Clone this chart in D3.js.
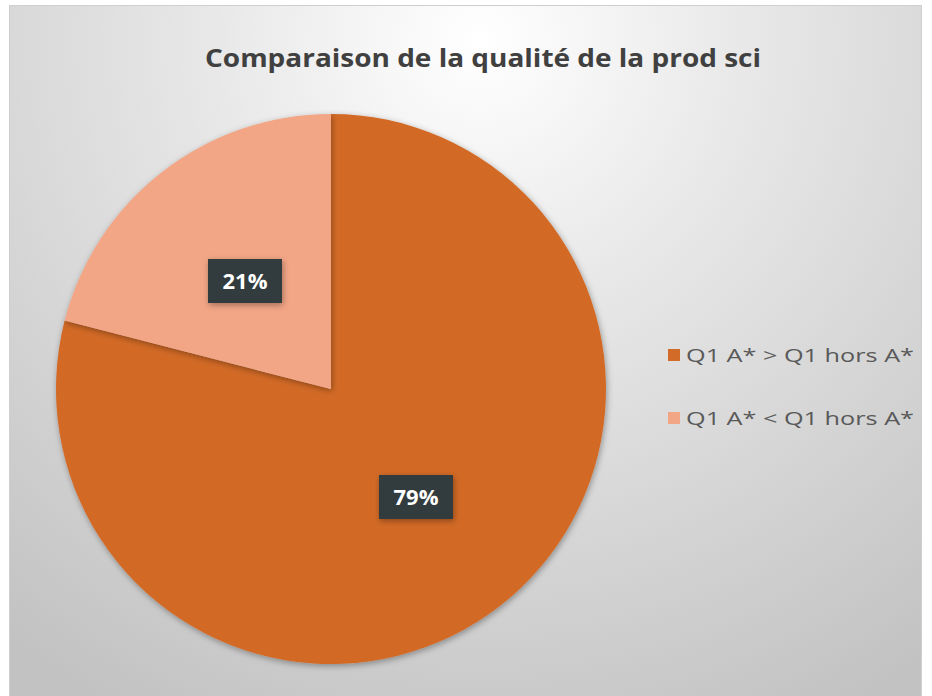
<!DOCTYPE html>
<html>
<head>
<meta charset="utf-8">
<script src="https://cdn.jsdelivr.net/npm/d3@7"></script>
<style>
	body { margin: 0; background: #fff; }
	svg { display: block; }
</style>
</head>
<body>
<svg id="chart" width="932" height="696"></svg>
<script>
const titleText = "Comparaison de la qualité de la prod sci";
const categories = ["Q1 A* > Q1 hors A*", "Q1 A* < Q1 hors A*"];
const values = [79, 21];
const colors = ["#d26b28", "#f3a686"];

const svg = d3.select("#chart");
const defs = svg.append("defs");

// background: light in the upper middle, grey towards the edges
const bg = defs.append("radialGradient")
	.attr("id", "bg")
	.attr("gradientUnits", "userSpaceOnUse")
	.attr("cx", 480).attr("cy", 40).attr("r", 760);
bg.append("stop").attr("offset", "0%").attr("stop-color", "#ffffff");
bg.append("stop").attr("offset", "35%").attr("stop-color", "#e8e8e8");
bg.append("stop").attr("offset", "100%").attr("stop-color", "#c2c2c2");

const shadow = defs.append("filter").attr("id", "shadow")
	.attr("x", "-20%").attr("y", "-20%").attr("width", "140%").attr("height", "140%");
shadow.append("feDropShadow").attr("dx", 1).attr("dy", 2).attr("stdDeviation", 3)
	.attr("flood-color", "#000").attr("flood-opacity", 0.35);

svg.append("rect")
	.attr("x", 9.5).attr("y", 5.5)
	.attr("width", 912).attr("height", 700)
	.attr("fill", "url(#bg)")
	.attr("stroke", "#cfcfcf");

svg.append("text")
	.attr("x", 483).attr("y", 67)
	.attr("text-anchor", "middle")
	.attr("font-family", "'Open Sans', sans-serif")
	.attr("font-weight", "bold")
	.attr("font-size", 25)
	.attr("fill", "#404040")
	.attr("textLength", 556)
	.attr("lengthAdjust", "spacingAndGlyphs")
	.text(titleText);

// Pie
const cx = 331, cy = 389, radius = 275;
const pie = d3.pie().sort(null).value(d => d);
const arc = d3.arc().innerRadius(0).outerRadius(radius);
const arcs = pie(values);

const g = svg.append("g").attr("transform", `translate(${cx},${cy})`);

g.selectAll("path.slice")
	.data(arcs)
	.enter()
	.append("path")
	.attr("class", "slice")
	.attr("d", arc)
	.attr("fill", (d, i) => colors[i])
	.attr("filter", "url(#shadow)");

// data labels in dark boxes
const labelPos = [[85, 108], [-86, -108]];
const labels = g.selectAll("g.label")
	.data(arcs)
	.enter()
	.append("g")
	.attr("class", "label")
	.attr("transform", (d, i) => `translate(${labelPos[i][0]},${labelPos[i][1]})`);

labels.append("rect")
	.attr("x", -37).attr("y", -22)
	.attr("width", 74).attr("height", 44)
	.attr("fill", "#333b3e")
	.attr("filter", "url(#shadow)");

labels.append("text")
	.attr("text-anchor", "middle")
	.attr("dy", "0.36em")
	.attr("font-family", "'Open Sans', sans-serif")
	.attr("font-weight", "bold")
	.attr("font-size", 22)
	.attr("fill", "#ffffff")
	.text(d => d.data + "%");

// Legend
const legend = svg.append("g").attr("transform", "translate(668,355)");
const items = legend.selectAll("g")
	.data(categories)
	.enter()
	.append("g")
	.attr("transform", (d, i) => `translate(0,${i * 63})`);

items.append("rect")
	.attr("x", 0).attr("y", -6)
	.attr("width", 12).attr("height", 12)
	.attr("fill", (d, i) => colors[i]);

items.append("text")
	.attr("x", 18)
	.attr("dy", "0.35em")
	.attr("font-family", "'Open Sans', sans-serif")
	.attr("font-size", 19)
	.attr("fill", "#595959")
	.attr("textLength", 228)
	.attr("lengthAdjust", "spacingAndGlyphs")
	.text(d => d);
</script>
</body>
</html>
